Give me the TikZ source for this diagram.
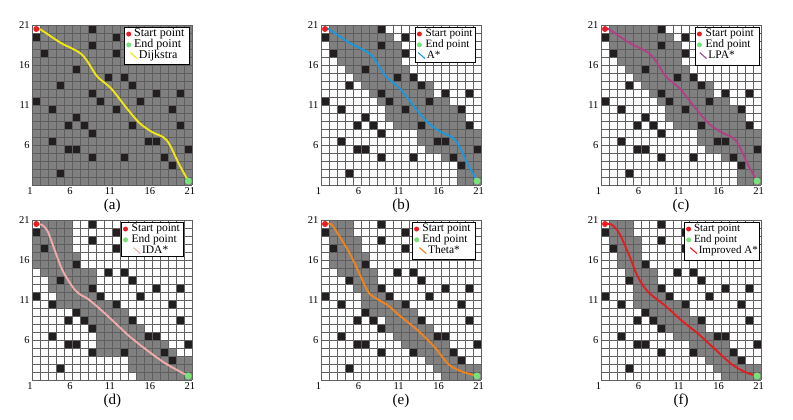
\documentclass[tikz,border=0pt]{standalone}
\usepackage{fontspec}
\setmainfont{Liberation Serif}
\definecolor{cgray}{RGB}{128,128,128}
\definecolor{cblack}{RGB}{35,31,32}
\definecolor{cline}{RGB}{95,95,95}
\definecolor{cred}{RGB}{230,30,35}
\definecolor{cgreen}{RGB}{120,225,120}
\definecolor{cdij}{RGB}{240,230,20}
\definecolor{castar}{RGB}{30,150,215}
\definecolor{clpa}{RGB}{175,65,135}
\definecolor{cida}{RGB}{240,170,170}
\definecolor{ctheta}{RGB}{240,130,30}
\definecolor{cimp}{RGB}{225,30,35}
\tikzset{
  cellgray/.style={fill=cgray},
  obst/.style={fill=cblack},
  gridline/.style={draw=cline, line width=0.5pt},
  route/.style={line width=1.9pt, line cap=round, line join=round},
  startdot/.style={circle, fill=cred, inner sep=0pt, minimum size=6pt},
  enddot/.style={circle, fill=cgreen, inner sep=0pt, minimum size=7pt},
  legdot/.style={circle, inner sep=0pt, minimum size=5pt},
  legbox/.style={draw=black, fill=white, line width=0.6pt},
  legtext/.style={anchor=west, inner sep=0pt, text height=0.64em, text depth=0.16em},
  ticklab/.style={font=\fontsize{10.5}{12}\selectfont, inner sep=0pt},
  sublab/.style={font=\fontsize{15}{17}\selectfont, inner sep=0pt},
}
\def\obstlist{8/1,1/2,11/2,8/3,2/4,11/4,6/6,10/7,12/7,4/8,13/8,8/9,16/9,19/9,1/10,9/10,14/10,3/11,11/11,18/11,6/12,5/13,7/13,13/13,19/13,8/14,3/15,15/15,16/15,5/16,6/16,20/16,8/17,12/17,17/17,18/18,4/19}
\def\grayA{1/2/20,2/1/20,3/1/20,4/1/20,5/1/20,6/1/20,7/1/20,8/1/20,9/1/20,10/1/20,11/1/20,12/1/20,13/1/20,14/1/20,15/1/20,16/1/20,17/1/20,18/1/20,19/1/20,20/1/20}
\def\grayB{1/2/7,2/2/9,3/2/10,4/3/10,5/3/10,6/4/11,7/5/12,8/6/14,9/7/14,10/8/16,11/9/17,12/9/18,13/10/18,14/13/20,15/13/20,16/14/19,17/16/20,18/19/20,19/18/20,20/18/20}
\def\grayD{1/2/5,2/2/5,3/1/5,4/1/5,5/1/6,6/1/6,7/2/8,8/3/8,9/3/8,10/4/9,11/4/10,12/7/12,13/8/13,14/9/14,15/9/14,16/9/17,17/9/18,18/13/20,19/13/20,20/14/20}
\def\grayE{1/2/4,2/2/4,3/2/5,4/3/5,5/2/6,6/2/6,7/3/7,8/5/7,9/5/8,10/6/9,11/6/10,12/7/12,13/9/13,14/9/14,15/10/14,16/11/16,17/13/17,18/14/18,19/15/20,20/16/20}
\def\grayF{1/2/4,2/2/4,3/2/5,4/3/5,5/3/5,6/3/6,7/4/7,8/5/7,9/5/8,10/5/9,11/5/10,12/7/11,13/8/12,14/9/13,15/10/14,16/12/16,17/13/17,18/14/18,19/15/20,20/16/20}
\newcommand\drawmap[1]{%
  \fill[white] (0,0) rectangle (20,20);
  \foreach \r/\a/\b in #1 {\fill[cellgray] (\a-1,20-\r) rectangle (\b,21-\r);}
  \foreach \c/\r in \obstlist {\fill[obst] (\c-1,20-\r) rectangle (\c,21-\r);}
  \foreach \i in {0,...,20} {\draw[gridline] (\i,0) -- (\i,20); \draw[gridline] (0,\i) -- (20,\i);}
}
\newcommand\drawaxes[1]{%
  \foreach \v in {1,6,11,16,21} {\node[ticklab] (#1-x\v) at (\v-1.3,-0.75) {\v};}
  \foreach \v in {6,11,16,21} {\node[ticklab,anchor=east] (#1-y\v) at (-0.3,\v-1) {\v};}
}
\newcommand\legendbox[9]{%
  \draw[legbox] (#2,19.66) rectangle (#3,#4);
  \node[legdot, fill=cred] (#1-ls) at (#2+0.55,18.87) {};
  \node[legdot, fill=cgreen] (#1-le) at (#2+0.55,17.52) {};
  \draw[line width=1.1pt, #5] (#2+#8-1.05,16.55) -- (#2+#8-0.2,15.8);
  \node[legtext, font=\fontsize{#9}{#9}\selectfont] (#1-lt1) at (#2+#7,18.87) {Start point};
  \node[legtext, font=\fontsize{#9}{#9}\selectfont] (#1-lt2) at (#2+#7,17.52) {End point};
  \node[legtext, font=\fontsize{#9}{#9}\selectfont] (#1-lt3) at (#2+#8,16.17) {#6};
}
\newcommand\terminals[1]{%
  \node[startdot] (#1-s) at (0.5,19.5) {};
  \node[enddot] (#1-e) at (19.5,0.5) {};
}
\begin{document}
\begin{tikzpicture}[x=1pt,y=1pt]
\useasboundingbox (0,0) rectangle (793,420);
\fill[white] (0,0) rectangle (793,420);

% (a) Dijkstra
\begin{scope}[shift={(32.3pt,235pt)}, x=8pt, y=8pt]
  \drawmap{\grayA}
  \draw[route, cdij] plot[smooth, tension=0.55] coordinates {(0.5,19.5) (1,19.45) (3.5,17.8) (6.2,16.3) (8,13.7) (9,12.8) (10,11.9) (11.8,9.6) (13.4,7.75) (15,6.6) (16.8,5.6) (18.4,2.5) (19.5,0.5)};
  \terminals{a}
  \legendbox{a}{11.5}{19.6}{15.09}{cdij}{Dijkstra}{1.2}{1.8}{12}
  \drawaxes{a}
  \node[sublab] (a-lab) at (10,-2.55) {(a)};
\end{scope}

% (b) A*
\begin{scope}[shift={(321pt,235pt)}, x=8pt, y=8pt]
  \drawmap{\grayB}
  \draw[route, castar] plot[smooth, tension=0.55] coordinates {(0.5,19.5) (1,19.45) (3.5,17.8) (6.2,16.3) (8,13.7) (9,12.8) (10,11.9) (11.8,9.6) (13.4,7.75) (15,6.6) (16.8,5.6) (18.4,2.5) (19.5,0.5)};
  \terminals{b}
  \legendbox{b}{11.75}{19.25}{15.3}{castar}{A*}{1.3}{1.45}{11.2}
  \drawaxes{b}
  \node[sublab] (b-lab) at (10,-2.55) {(b)};
\end{scope}

% (c) LPA*
\begin{scope}[shift={(601pt,235pt)}, x=8pt, y=8pt]
  \drawmap{\grayB}
  \draw[route, clpa] plot[smooth, tension=0.55] coordinates {(0.5,19.5) (1,19.45) (3.5,17.8) (6.2,16.3) (8,13.7) (9,12.8) (10,11.9) (11.8,9.6) (13.4,7.75) (15,6.6) (16.8,5.6) (18.4,2.5) (19.5,0.5)};
  \terminals{c}
  \legendbox{c}{11.75}{19.75}{15.0}{clpa}{LPA*}{1.3}{1.65}{11.5}
  \drawaxes{c}
  \node[sublab] (c-lab) at (10,-2.55) {(c)};
\end{scope}

% (d) IDA*
\begin{scope}[shift={(32.3pt,40pt)}, x=8pt, y=8pt]
  \drawmap{\grayD}
  \draw[route, cida] plot[smooth, tension=0.55] coordinates {(0.5,19.5) (1.2,19.4) (1.8,18.8) (2.2,17.9) (3.6,14.1) (4.6,12.3) (5.3,11.3) (6.1,10.6) (7,10.1) (9.1,8.3) (12.2,5.4) (13.7,4.2) (16.6,2.1) (19.5,0.5)};
  \terminals{d}
  \legendbox{d}{11.1}{18.9}{15.4}{cida}{IDA*}{1.3}{2.6}{11.5}
  \drawaxes{d}
  \node[sublab] (d-lab) at (10,-2.55) {(d)};
\end{scope}

% (e) Theta*
\begin{scope}[shift={(321pt,40pt)}, x=8pt, y=8pt]
  \drawmap{\grayE}
  \draw[route, ctheta] plot[smooth, tension=0.55] coordinates {(0.5,19.5) (1.3,19.45) (2.1,18.3) (3.6,15.8) (4.8,13.3) (5.9,11.0) (6.9,10.2) (8.4,9.3) (10,7.9) (12.1,6.2) (14.2,4.1) (15.9,2.0) (17.5,1.1) (19.5,0.5)};
  \terminals{e}
  \legendbox{e}{11.4}{19.25}{15.09}{ctheta}{Theta*}{1.25}{1.95}{11.5}
  \drawaxes{e}
  \node[sublab] (e-lab) at (10,-2.55) {(e)};
\end{scope}

% (f) Improved A*
\begin{scope}[shift={(601pt,40pt)}, x=8pt, y=8pt]
  \drawmap{\grayF}
  \draw[route, cimp] plot[smooth, tension=0.55] coordinates {(0.5,19.5) (1.3,19.45) (2.3,18.3) (3.6,15.4) (4.6,12.9) (5.9,11.0) (8,9.3) (10,7.5) (12.1,5.8) (14.2,3.9) (16.3,2.0) (18,1.0) (19.5,0.5)};
  \terminals{f}
  \legendbox{f}{10.4}{19.75}{15.0}{cimp}{Improved A*}{1.2}{1.8}{11}
  \drawaxes{f}
  \node[sublab] (f-lab) at (10,-2.55) {(f)};
\end{scope}
\end{tikzpicture}
\end{document}
